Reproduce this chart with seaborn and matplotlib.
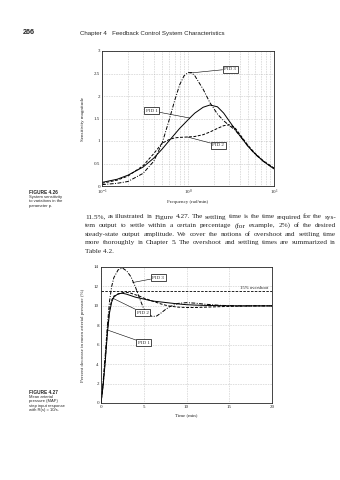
import matplotlib
matplotlib.use("Agg")
import matplotlib.pyplot as plt
import seaborn as sns
import numpy as np
from matplotlib.ticker import NullFormatter, LogLocator

# ---------------- data ----------------
freq = [0.1, 0.15, 0.2, 0.3, 0.4, 0.5, 0.6, 0.7, 0.8, 0.9, 1.0, 1.1, 1.2,
        1.5, 1.8, 2.2, 2.6, 3.0, 3.5, 4.0, 5.0, 6.0, 7.5, 10.0]
sens_pid1 = [0.08, 0.15, 0.24, 0.42, 0.62, 0.82, 1.0, 1.15, 1.28, 1.38, 1.47,
             1.55, 1.62, 1.75, 1.8, 1.76, 1.62, 1.45, 1.27, 1.12, 0.88, 0.72,
             0.55, 0.38]
sens_pid2 = [0.06, 0.13, 0.22, 0.45, 0.72, 0.95, 1.03, 1.07, 1.08, 1.085, 1.09,
             1.095, 1.1, 1.14, 1.2, 1.28, 1.34, 1.36, 1.3, 1.15, 0.9, 0.73,
             0.56, 0.40]
sens_pid3 = [0.03, 0.06, 0.1, 0.28, 0.55, 0.95, 1.45, 1.9, 2.25, 2.45, 2.52,
             2.52, 2.45, 2.15, 1.85, 1.6, 1.45, 1.35, 1.25, 1.12, 0.88, 0.71,
             0.55, 0.39]

time_min = [0, 0.25, 0.5, 0.75, 1.0, 1.25, 1.5, 2.0, 2.5, 3.0, 3.5, 4.0, 4.5,
            5.0, 5.5, 6.0, 6.5, 7.0, 7.5, 8.0, 9.0, 10, 11, 12, 14, 16, 18, 20]
map_pid1 = [0, 1.8, 4.3, 7.2, 9.3, 10.4, 10.9, 11.25, 11.3, 11.2, 11.05, 10.9,
            10.8, 10.7, 10.6, 10.5, 10.45, 10.4, 10.35, 10.3, 10.2, 10.12,
            10.08, 10.05, 10.02, 10.0, 10.0, 10.0]
map_pid2 = [0, 1.9, 4.5, 7.5, 9.6, 10.6, 11.0, 11.2, 11.35, 11.4, 11.3, 11.15,
            11.0, 10.8, 10.65, 10.5, 10.35, 10.2, 10.08, 9.98, 9.87, 9.83,
            9.83, 9.86, 9.92, 9.97, 10.0, 10.0]
map_pid3 = [0, 2.2, 5.0, 8.0, 10.5, 12.0, 12.9, 13.7, 13.9, 13.6, 13.0, 12.0,
            10.8, 9.7, 9.15, 8.9, 8.95, 9.25, 9.6, 9.9, 10.25, 10.33, 10.28,
            10.18, 10.05, 10.0, 10.0, 10.0]
overshoot_level = 11.5

sens_yticks = [0, 0.5, 1, 1.5, 2, 2.5, 3]
sens_yticklabels = ["0", "0.5", "1", "1.5", "2", "2.5", "3"]
map_xticks = [0, 5, 10, 15, 20]
map_yticks = [0, 2, 4, 6, 8, 10, 12, 14]

paragraph = [
    "11.5%, as illustrated in Figure 4.27. The settling time is the time required for the sys-",
    "tem output to settle within a certain percentage (for example, 2%) of the desired",
    "steady-state output amplitude. We cover the notions of overshoot and settling time",
    "more thoroughly in Chapter 5. The overshoot and settling times are summarized in",
    "Table 4.2.",
]
cap26 = ["System sensitivity", "to variations in the", "parameter p."]
cap27 = ["Mean arterial", "pressure (MAP)", "step input response", "with R(s) = 10/s."]

# ---------------- style ----------------
sns.set_style("white")
plt.rcParams["font.family"] = ["Liberation Serif", "DejaVu Serif"]
plt.rcParams["mathtext.fontset"] = "stix"
plt.rcParams["axes.linewidth"] = 0.6

W, H = 340, 480
fig = plt.figure(figsize=(3.4, 4.8), dpi=100)
fig.patch.set_facecolor("white")

def fx(px):
    return px / W

def fy(py):
    return 1 - py / H

grid_kw = dict(color="#9a9a9a", linestyle=(0, (1, 2)), linewidth=0.4)
box_kw = dict(boxstyle="square,pad=0.3", fc="white", ec="black", lw=0.5)
tick_fs = 3.6
dashdot = (0, (4, 1.5, 1, 1.5))
dashed = (0, (3, 1.6))

# ---------------- top chart ----------------
ax1 = fig.add_axes([fx(102), fy(186), fx(172), 135 / H])
sns.lineplot(x=freq, y=sens_pid1, ax=ax1, color="black", lw=0.7)
sns.lineplot(x=freq, y=sens_pid2, ax=ax1, color="black", lw=0.7)
ax1.lines[-1].set_linestyle(dashed)
sns.lineplot(x=freq, y=sens_pid3, ax=ax1, color="black", lw=0.7)
ax1.lines[-1].set_linestyle(dashdot)
ax1.set_xscale("log")
ax1.set_xlim(0.1, 10)
ax1.set_ylim(0, 3)
ax1.set_yticks(sens_yticks)
ax1.set_yticklabels(sens_yticklabels)
ax1.xaxis.set_minor_locator(LogLocator(base=10, subs=np.arange(2, 10)))
ax1.xaxis.set_minor_formatter(NullFormatter())
ax1.grid(True, which="major", **grid_kw)
ax1.grid(True, which="minor", axis="x", **grid_kw)
ax1.tick_params(which="both", direction="in", length=2, width=0.4,
                labelsize=tick_fs, pad=1.5)
ax1.tick_params(which="minor", length=1)
ax1.set_xlabel("Frequency (rad/min)", fontsize=tick_fs)
ax1.set_ylabel("Sensitivity magnitude", fontsize=tick_fs)
ax1.xaxis.set_label_coords(0.5, -0.10)
ax1.yaxis.set_label_coords(-0.1, 0.5)

arrow_kw = dict(arrowstyle="-", lw=0.4, color="black", shrinkA=0, shrinkB=0)
ax1.annotate("PID 3", xy=(1.05, 2.51), xytext=(3.1, 2.6), fontsize=3.6,
             ha="center", va="center", bbox=box_kw, arrowprops=arrow_kw)
ax1.annotate("PID 1", xy=(1.05, 1.51), xytext=(0.38, 1.67), fontsize=3.6,
             ha="center", va="center", bbox=box_kw, arrowprops=arrow_kw)
ax1.annotate("PID 2", xy=(0.98, 1.09), xytext=(2.25, 0.91), fontsize=3.6,
             ha="center", va="center", bbox=box_kw, arrowprops=arrow_kw)

# ---------------- bottom chart ----------------
ax2 = fig.add_axes([fx(101), fy(403), fx(171), 136 / H])
ax2.axhline(overshoot_level, color="black", lw=0.6, linestyle=dashed)
sns.lineplot(x=time_min, y=map_pid1, ax=ax2, color="black", lw=0.7)
sns.lineplot(x=time_min, y=map_pid2, ax=ax2, color="black", lw=0.7)
ax2.lines[-1].set_linestyle(dashed)
sns.lineplot(x=time_min, y=map_pid3, ax=ax2, color="black", lw=0.7)
ax2.lines[-1].set_linestyle(dashdot)
ax2.set_xlim(0, 20)
ax2.set_ylim(0, 14)
ax2.set_xticks(map_xticks)
ax2.set_yticks(map_yticks)
ax2.grid(True, **grid_kw)
ax2.tick_params(direction="in", length=2, width=0.4, labelsize=tick_fs, pad=1.5)
ax2.set_xlabel("Time (min)", fontsize=tick_fs)
ax2.set_ylabel("Percent decrease in mean arterial pressure (%)", fontsize=tick_fs)
ax2.xaxis.set_label_coords(0.5, -0.075)
ax2.yaxis.set_label_coords(-0.095, 0.5)
ax2.text(19.6, 11.65, "15% overshoot", fontsize=3.4, ha="right", va="bottom")

ax2.annotate("PID 3", xy=(3.7, 12.4), xytext=(6.7, 12.9), fontsize=3.6,
             ha="center", va="center", bbox=box_kw, arrowprops=arrow_kw)
ax2.annotate("PID 2", xy=(1.35, 10.8), xytext=(4.9, 9.27), fontsize=3.6,
             ha="center", va="center", bbox=box_kw, zorder=5,
             arrowprops=arrow_kw)
ax2.annotate("PID 1", xy=(0.8, 7.5), xytext=(5.0, 6.2), fontsize=3.6,
             ha="center", va="center", bbox=box_kw, zorder=5,
             arrowprops=arrow_kw)

# ---------------- page text ----------------
sans = ["Liberation Sans", "DejaVu Sans"]
fig.text(fx(23), fy(33), "266", fontsize=5.2, fontweight="bold", family=sans,
         va="center", ha="left")
fig.text(fx(80), fy(33), "Chapter 4   Feedback Control System Characteristics",
         fontsize=4.45, family=sans, va="center", ha="left")

fig.text(fx(29), fy(192), "FIGURE 4.26", fontsize=3.4, fontweight="bold",
         family=sans, va="center", ha="left")
for i, line in enumerate(cap26):
    fig.text(fx(29), fy(197 + 4.4 * i), line, fontsize=3.0, family=sans,
             va="center", ha="left")

fig.text(fx(29), fy(392), "FIGURE 4.27", fontsize=3.4, fontweight="bold",
         family=sans, va="center", ha="left")
for i, line in enumerate(cap27):
    fig.text(fx(29), fy(397 + 4.4 * i), line, fontsize=3.0, family=sans,
             va="center", ha="left")

# justified paragraph, font size fitted to the column width
fig.canvas.draw()
renderer = fig.canvas.get_renderer()
x0, x1 = 85, 336
probe_fs = 5.0
widest = 0
for line in paragraph[:-1]:
    t = fig.text(0, 0, line, fontsize=probe_fs)
    widest = max(widest, t.get_window_extent(renderer).width)
    t.remove()
para_fs = probe_fs * (x1 - x0) / widest * 0.985
for i, line in enumerate(paragraph):
    y = fy(217 + 8.6 * i)
    words = line.split(" ")
    if i == len(paragraph) - 1:
        fig.text(fx(x0), y, line, fontsize=para_fs, va="center", ha="left")
        continue
    widths, arts = [], []
    for w in words:
        t = fig.text(0, y, w, fontsize=para_fs, va="center", ha="left")
        widths.append(t.get_window_extent(renderer).width)
        arts.append(t)
    gap = (x1 - x0 - sum(widths)) / (len(words) - 1)
    xp = x0
    for t, wd in zip(arts, widths):
        t.set_x(fx(xp))
        xp += wd + gap

fig.savefig("out.png", dpi=100, facecolor="white")
